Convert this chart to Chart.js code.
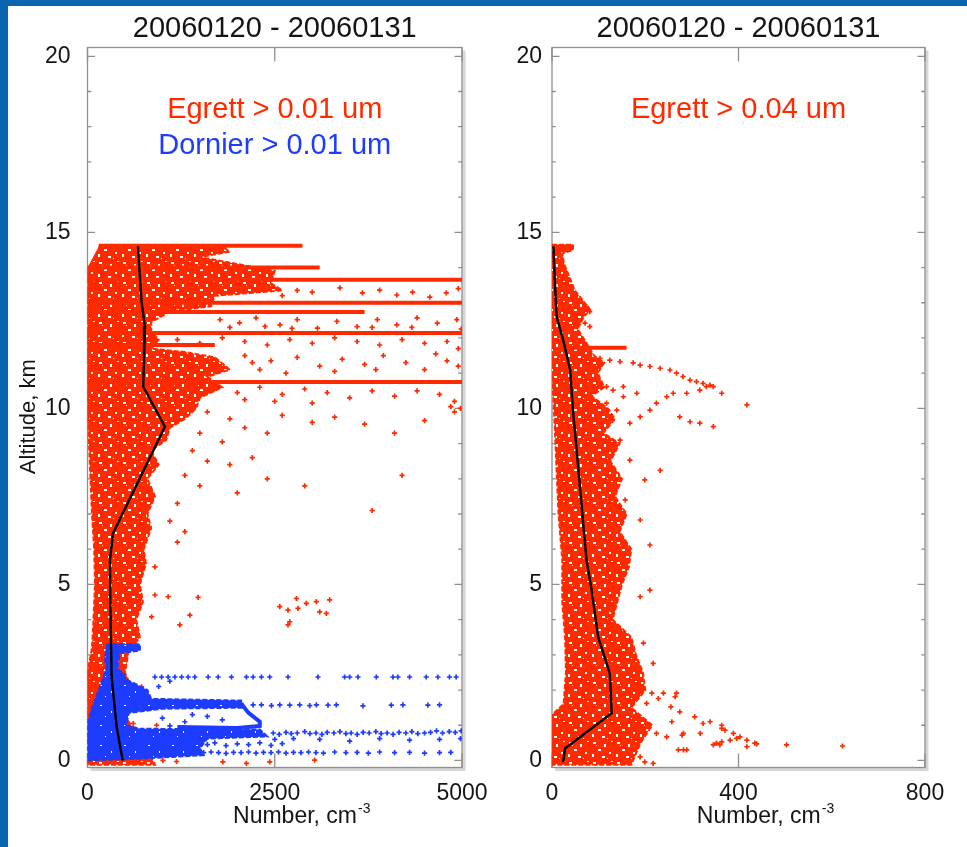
<!DOCTYPE html>
<html>
<head>
<meta charset="utf-8">
<script src="https://cdn.jsdelivr.net/npm/chart.js@4.4.1/dist/chart.umd.min.js"></script>
<style>
  html, body { margin: 0; padding: 0; }
  body { width: 967px; height: 847px; background: #0a64ae; position: relative; overflow: hidden; }
  #sheet { position: absolute; left: 8px; top: 6px; right: 0; bottom: 0; background: #fff; }
  .panel { position: absolute; top: 0; height: 847px; }
  #left { left: 0; width: 510px; }
  #right { left: 470px; width: 497px; }
</style>
</head>
<body>
<div id="sheet"></div>
<div class="panel" id="left"><canvas id="c1"></canvas></div>
<div class="panel" id="right"><canvas id="c2"></canvas></div>
<script>
const period = '20060120 - 20060131';
const altitudeTitle = 'Altitude, km   ';
const numberTitle = 'Number, cm';
const numberPower = '-3';
const altitudeTicks = [0, 5, 10, 15, 20];
const leftNumberTicks = [0, 2500, 5000];
const rightNumberTicks = [0, 400, 800];
const leftLabels = ['Egrett > 0.01 um', 'Dornier > 0.01 um'];
const rightLabels = ['Egrett > 0.04 um'];

// left panel, Egrett > 0.01 um : outline of the dense cloud [number, km]
const egrettLeftCore = [
  [150,14.6],[1800,14.6],[1900,14.45],[1500,14.3],[2000,14.1],[2500,13.9],[2450,13.55],[2600,13.35],
  [1700,13.2],[1650,12.9],[1100,12.75],[850,12.45],[850,12.2],[950,11.95],[850,11.7],[1300,11.6],
  [1700,11.45],[1900,11.1],[1600,10.9],[1800,10.6],[1500,10.3],[1450,10.0],[1300,9.7],[1100,9.45],
  [1050,9.1],[850,8.8],[950,8.4],[800,8.0],[900,7.5],[800,7.0],[850,6.6],[750,6.0],[780,5.6],
  [700,5.0],[740,4.5],[650,4.0],[700,3.5],[550,3.1],[500,2.5],[600,2.0],[450,1.4],[650,0.8],
  [800,0.3],[900,-0.12],[0,-0.12],[0,2.5],[60,3.2],[80,4.0],[100,5.0],[90,6.0],[60,7.0],
  [40,8.0],[20,9.0],[0,10.0],[0,14.0]
];
// [km, from, to]
const egrettLeftStreaks = [
  [14.62,150,2870],[14.0,0,3100],[13.65,0,5000],[13.0,0,5000],[12.74,0,3700],[12.14,0,5000],[11.8,0,1700],[10.75,0,5000]
];
const egrettLeftPoints = [
  [3000,13.3],[3370,13.42],[3670,13.28],[3900,13.36],[4130,13.22],[4340,13.3],[4570,13.16],[4790,13.28],[2600,13.2],[2800,13.35],[4950,13.4],
  [1770,12.52],[2030,12.43],[2250,12.57],[2570,12.37],[2800,12.52],[3070,12.28],[3330,12.47],[3600,12.32],[3870,12.52],[4130,12.37],
  [4400,12.57],[4670,12.42],[4930,12.52],[4990,12.25],[1900,12.3],[2370,12.33],[2730,12.27],[3800,12.3],[4330,12.3],
  [1200,11.95],[1500,11.85],[1800,12.0],[2100,11.9],[2400,11.8],[2700,11.95],[3000,11.85],[3300,12.0],[3600,11.9],[3900,11.8],
  [4200,11.95],[4500,11.85],[4800,11.9],[4950,11.7],
  [2100,11.5],[2450,11.35],[2800,11.45],[3100,11.2],[3400,11.4],[3700,11.25],[3950,11.5],[4250,11.3],[4500,11.1],[4800,11.35],
  [2300,11.1],[2650,11.0],[3300,11.05],[3850,11.1],[4650,11.55],[4950,11.2],[2200,11.3],
  [1700,10.55],[2000,10.45],[2300,10.6],[2600,10.4],[2900,10.55],[3200,10.45],[3500,10.3],[3800,10.5],[4100,10.35],[4400,10.5],
  [4700,10.4],[4900,10.2],[4980,10.0],[4900,9.9],[4850,10.05],[2100,10.25],[2500,10.2],[3000,10.15],
  [1600,9.9],[1900,9.7],[2100,9.45],[2600,9.8],[3000,9.6],[3300,9.75],[3700,9.55],[4100,9.3],[4500,9.65],[1500,9.3],[1800,9.05],[2400,9.3],
  [1400,8.8],[1600,8.5],[1900,8.4],[2200,8.6],[1300,8.1],[1500,7.8],[2000,7.6],[2400,8.0],[2900,7.8],[4200,8.1],[3800,7.1],
  [1200,7.3],[1100,6.8],[1300,6.5],
  [1200,6.2],[900,5.5],[900,4.7],[1077,4.65],[1477,4.63],[856,4.08],[1367,4.13],[1233,3.85],
  [2567,4.37],[2677,4.27],[2789,4.6],[2810,4.32],[2922,4.46],[3055,4.51],[3100,4.22],[3189,4.18],[3233,4.56],[2677,3.85],[2700,3.94],
  [723,2.09],[923,1.0],[611,1.05],[1007,0.0],[1189,-0.03],[1807,-0.04],[2122,-0.08],[2433,-0.04],[3033,0.01]
];

// left panel, Dornier > 0.01 um
const dornierCore = [
  [250,3.3],[700,3.3],[700,3.12],[430,3.05],[400,2.6],[480,2.48],[520,2.3],[800,2.0],[850,1.75],[2050,1.7],
  [2100,1.5],[1000,1.47],[550,1.35],[520,1.0],[700,0.9],[2300,0.88],[2400,0.68],[1600,0.62],[1500,0.35],
  [1550,0.15],[700,0.05],[0,0.0],[0,1.0],[60,1.5],[150,2.0],[250,2.6],[230,3.0]
];
const dornierLoop = [[2050,1.62],[2150,1.35],[2300,1.1],[2300,0.98],[2000,0.92],[1200,0.95]];
const dornierPoints = [
  [900,2.37],[989,2.37],[1077,2.37],[1167,2.37],[1256,2.37],[1344,2.37],[1433,2.37],[1611,2.37],[1744,2.37],[1922,2.37],
  [2122,2.37],[2211,2.37],[2322,2.37],[2433,2.37],[2677,2.37],[3077,2.37],[3433,2.37],[3500,2.37],[3611,2.37],[3856,2.37],
  [4078,2.37],[4144,2.37],[4300,2.37],[4522,2.37],[4678,2.37],[4833,2.37],[4922,2.37],
  [2211,1.58],[2322,1.58],[2456,1.56],[2567,1.58],[2700,1.57],[2833,1.58],[2967,1.56],[3056,1.58],[3211,1.57],[3322,1.58],
  [3678,1.55],[4056,1.57],[4211,1.58],[4544,1.57],[4700,1.58],
  [2480,0.78],[2560,0.74],[2650,0.8],[2720,0.76],[2800,0.78],[2900,0.82],[2970,0.76],[3050,0.78],[3130,0.74],[3200,0.8],
  [3290,0.78],[3370,0.82],[3450,0.76],[3520,0.78],[3600,0.74],[3680,0.8],[3760,0.78],[3850,0.82],[3920,0.76],[4000,0.78],
  [4080,0.74],[4160,0.8],[4250,0.78],[4330,0.82],[4410,0.76],[4500,0.78],[4580,0.8],[4660,0.84],[4740,0.78],[4830,0.82],
  [4910,0.8],[4990,0.84],
  [2500,0.6],[2750,0.62],[3100,0.6],[3500,0.55],[3900,0.62],[4300,0.58],[4700,0.6],[4980,0.62],
  [1600,0.45],[1700,0.5],[1850,0.42],[2000,0.47],[2150,0.45],[2300,0.5],[2450,0.43],[2600,0.48],
  [1550,0.22],[1650,0.24],[1750,0.22],[1850,0.2],[1950,0.23],[2050,0.22],[2150,0.24],[2250,0.21],[2350,0.23],[2450,0.22],
  [2550,0.24],[2650,0.21],[2750,0.23],[2850,0.22],[2950,0.24],[3050,0.22],[3150,0.21],[3300,0.24],[3450,0.22],[3600,0.23],
  [3750,0.21],[3900,0.24],[4100,0.22],[4300,0.23],[4500,0.21],[4700,0.22],[4850,0.23],
  [1000,1.2],[1300,1.1],[1600,1.25],[1800,1.15],[1100,0.98],[1400,1.3],[950,2.1],[1100,2.25]
];
const meanLeft = [
  [673,14.6],[722,13.03],[767,12.32],[755,11.4],[744,10.62],[1033,9.48],[340,6.45],[300,5.69],[305,4.5],[322,2.38],[389,0.96],[470,0.0]
];

// right panel, Egrett > 0.04 um
const egrettRightCore = [
  [0,14.65],[45,14.65],[45,14.5],[22,14.4],[26,14.1],[40,13.65],[48,13.37],[70,13.0],[82,12.8],[68,12.6],[55,12.25],
  [72,11.9],[90,11.5],[112,11.3],[98,11.0],[112,10.6],[85,10.35],[120,10.0],[135,9.7],[110,9.3],[145,9.0],[125,8.5],
  [150,8.0],[135,7.5],[160,7.0],[145,6.5],[170,6.0],[165,5.5],[150,5.0],[140,4.5],[130,4.0],[170,3.5],[180,3.0],
  [195,2.5],[200,2.0],[170,1.5],[215,1.0],[190,0.5],[170,-0.12],[0,-0.12],[0,1.3],[25,1.6],[30,2.5],[28,3.5],
  [22,4.5],[22,5.7],[14,7.0],[9,8.5],[4,10.0],[0,11.0]
];
const egrettRightStreaks = [[11.72,40,160],[14.6,0,45]];
const egrettRightPoints = [
  [174,11.29],[189,11.23],[210,11.19],[232,11.14],[253,11.09],[267,11.0],[281,10.9],[296,10.8],[310,10.76],[324,10.71],
  [339,10.66],[346,10.62],[317,10.52],[289,10.43],[331,10.62],[364,10.43],[418,10.1],
  [224,10.15],[246,10.33],[260,10.43],[210,9.95],[189,9.76],[167,9.58],[274,9.76],[296,9.62],[317,9.58],[346,9.48],
  [153,10.33],[131,10.52],[117,10.62],[96,10.81],[153,10.62],[182,10.43],[117,10.15],[139,9.95],
  [103,11.42],[124,11.37],[146,11.33],[60,12.8],[74,12.89],[81,12.75],[71,12.42],[81,12.32],
  [146,9.1],[167,8.53],[199,7.97],[157,7.4],[189,6.83],[210,6.12],[232,8.24],[135,6.83],[103,5.7],
  [160,5.5],[189,4.65],[210,4.84],[217,2.76],[196,3.33],[182,2.57],[239,1.91],[264,1.81],[267,1.91],[274,1.38],
  [306,1.24],[324,1.05],[339,1.1],[364,1.0],[371,0.86],[389,0.77],[403,0.67],[418,0.58],[382,0.58],[353,0.49],
  [346,0.44],[364,0.53],[435,0.49],[503,0.44],[289,0.3],[246,0.67],[224,0.77],[282,0.77],[271,0.3],[189,0.1],
  [167,0.01],[214,1.91],[228,1.76],[203,1.62],[255,1.52],[623,0.41],[360,0.44],[396,0.63],[418,0.39],[439,0.47],
  [318,0.77],[279,0.72],[282,0.3],[364,0.91],[257,1.1],[199,-0.04],[217,-0.08]
];
const meanRight = [
  [3,14.6],[6,13.65],[10,12.6],[24,11.94],[39,11.09],[46,9.76],[49,9.39],[74,5.69],[85,4.84],[99,3.51],[124,2.47],[128,1.34],[28,0.34],[24,-0.05]
];

const RED = '#ff2a00';
const BLUE = '#1e3cff';
const INK = '#151515';
const FONT = "'Liberation Sans', Arial, Helvetica, sans-serif";

// speckled fill so that the dense clouds keep some of the dotted texture
function speckle(color, specks) {
  const tile = document.createElement('canvas');
  tile.width = 24;
  tile.height = 20;
  const g = tile.getContext('2d');
  g.fillStyle = color;
  g.fillRect(0, 0, 24, 20);
  g.fillStyle = '#fff';
  specks.forEach(r => g.fillRect(r[0], r[1], r[2], r[3]));
  return g.createPattern(tile, 'repeat');
}
const redTexture = speckle(RED, [[3,2,3,2],[14,4,2,3],[8,9,3,2],[19,12,2,2],[2,14,2,3],[12,16,3,2],[21,1,2,1],[6,5,1,1],[17,18,1,1]]);
const blueTexture = speckle(BLUE, [[4,5,2,1],[15,11,1,2],[9,16,1,1]]);

const xy = list => list.map(([x, y]) => ({x, y}));

function scatterSet(list, color, order) {
  return { data: xy(list), pointStyle: 'cross', pointRadius: 2.6, borderWidth: 1.7,
    borderColor: color, backgroundColor: color, order };
}
function lineSet(list, color, width, order) {
  return { data: xy(list), showLine: true, pointRadius: 0, borderColor: color, borderWidth: width, order };
}
function cloudSet(list, color, texture, order) {
  return { data: xy(list), showLine: true, fill: 'shape', pointRadius: 0,
    borderColor: color, backgroundColor: texture, borderWidth: 2, borderDash: [5, 2], order };
}
function streakSets(list, color, order) {
  return list.map(([km, from, to]) => lineSet([[from, km], [to, km]], color, 4, order));
}

const idlFrame = {
  id: 'idlFrame',
  beforeDatasetsDraw(chart, args, opts) {
    const {ctx, chartArea: a, scales: {x, y}} = chart;
    ctx.save();
    ctx.strokeStyle = '#d6d6d6';
    ctx.lineWidth = 3;
    ctx.beginPath();
    ctx.moveTo(a.right + 2, a.top + 3);
    ctx.lineTo(a.right + 2, a.bottom + 2);
    ctx.lineTo(a.left + 3, a.bottom + 2);
    ctx.stroke();
    ctx.strokeStyle = '#8e8e8e';
    ctx.lineWidth = 1.3;
    ctx.strokeRect(a.left, a.top, a.right - a.left, a.bottom - a.top);
    ctx.beginPath();
    opts.xTicks.forEach(v => {
      const px = x.getPixelForValue(v);
      ctx.moveTo(px, a.bottom); ctx.lineTo(px, a.bottom - 14);
      ctx.moveTo(px, a.top); ctx.lineTo(px, a.top + 14);
    });
    for (let km = 0; km <= 20; km++) {
      const py = y.getPixelForValue(km);
      const len = km % 5 === 0 ? 7.5 : 3.8;
      ctx.moveTo(a.left, py); ctx.lineTo(a.left + len, py);
      ctx.moveTo(a.right, py); ctx.lineTo(a.right - len, py);
    }
    ctx.stroke();
    ctx.restore();
  },
  afterDatasetsDraw(chart, args, opts) {
    const {ctx, chartArea: a, scales: {y}} = chart;
    const cx = (a.left + a.right) / 2;
    ctx.save();
    ctx.textAlign = 'center';
    ctx.textBaseline = 'middle';
    ctx.font = '29px ' + FONT;
    opts.labels.forEach((text, i) => {
      ctx.fillStyle = opts.labelColors[i];
      ctx.fillText(text, cx, y.getPixelForValue(opts.labelRows[i]));
    });
    // x axis title with superscript unit power
    ctx.textAlign = 'left';
    ctx.textBaseline = 'alphabetic';
    ctx.font = '23px ' + FONT;
    const w1 = ctx.measureText(numberTitle).width;
    ctx.font = '14px ' + FONT;
    const w2 = ctx.measureText(numberPower).width;
    const x0 = cx + 27 - (w1 + w2 + 1) / 2;
    const base = a.bottom + 55.5;
    ctx.fillStyle = INK;
    ctx.font = '23px ' + FONT;
    ctx.fillText(numberTitle, x0, base);
    ctx.font = '14px ' + FONT;
    ctx.fillText(numberPower, x0 + w1 + 1, base - 10);
    ctx.restore();
  }
};

function panelOptions(cfg) {
  return {
    responsive: true,
    maintainAspectRatio: false,
    animation: false,
    events: [],
    layout: { padding: { left: cfg.padLeft, right: cfg.padRight, top: 0, bottom: 0 } },
    plugins: {
      legend: { display: false },
      tooltip: { enabled: false },
      title: { display: true, text: period, fullSize: false, color: INK,
        font: { family: FONT, size: 29, weight: 'normal' }, padding: { top: 12, bottom: 0.7 } },
      idlFrame: { xTicks: cfg.xTicks, labels: cfg.labels, labelColors: cfg.labelColors, labelRows: cfg.labelRows }
    },
    scales: {
      x: {
        type: 'linear', min: cfg.xTicks[0], max: cfg.xTicks[cfg.xTicks.length - 1],
        afterBuildTicks: s => { s.ticks = cfg.xTicks.map(v => ({value: v})); },
        afterFit: s => { s.height = 79.5; },
        grid: { display: false, drawTicks: false },
        border: { display: false },
        ticks: { autoSkip: false, maxRotation: 0, padding: 12, color: INK,
          font: { family: FONT, size: 23 }, callback: v => String(v) }
      },
      y: {
        type: 'linear', min: -0.2, max: 20.25,
        afterBuildTicks: s => { s.ticks = altitudeTicks.map(v => ({value: v})); },
        afterFit: s => { s.width = cfg.yWidth; },
        grid: { display: false, drawTicks: false },
        border: { display: false },
        title: { display: cfg.yTitle, text: altitudeTitle, color: INK,
          font: { family: FONT, size: 22 }, padding: { top: 8, bottom: 0 } },
        ticks: { autoSkip: false, padding: cfg.yPad, color: INK,
          font: { family: FONT, size: 23 }, callback: v => String(v) }
      }
    }
  };
}

new Chart(document.getElementById('c1'), {
  type: 'scatter',
  data: {
    datasets: [
      lineSet(meanLeft, '#000', 2.4, 0),
      scatterSet(dornierPoints, BLUE, 1),
      lineSet(dornierLoop, BLUE, 4, 2),
      cloudSet(dornierCore, BLUE, blueTexture, 3),
      scatterSet(egrettLeftPoints, RED, 4),
      ...streakSets(egrettLeftStreaks, RED, 5),
      cloudSet(egrettLeftCore, RED, redTexture, 6)
    ]
  },
  options: panelOptions({
    padLeft: 7.5, padRight: 48, yWidth: 80, yPad: 17, yTitle: true, xTicks: leftNumberTicks,
    labels: leftLabels, labelColors: [RED, BLUE], labelRows: [18.48, 17.45]
  }),
  plugins: [idlFrame]
});

new Chart(document.getElementById('c2'), {
  type: 'scatter',
  data: {
    datasets: [
      lineSet(meanRight, '#000', 2.4, 0),
      scatterSet(egrettRightPoints, RED, 4),
      ...streakSets(egrettRightStreaks, RED, 5),
      cloudSet(egrettRightCore, RED, redTexture, 6)
    ]
  },
  options: panelOptions({
    padLeft: 22, padRight: 42, yWidth: 60, yPad: 10, yTitle: false, xTicks: rightNumberTicks,
    labels: rightLabels, labelColors: [RED], labelRows: [18.48]
  }),
  plugins: [idlFrame]
});
</script>
</body>
</html>
